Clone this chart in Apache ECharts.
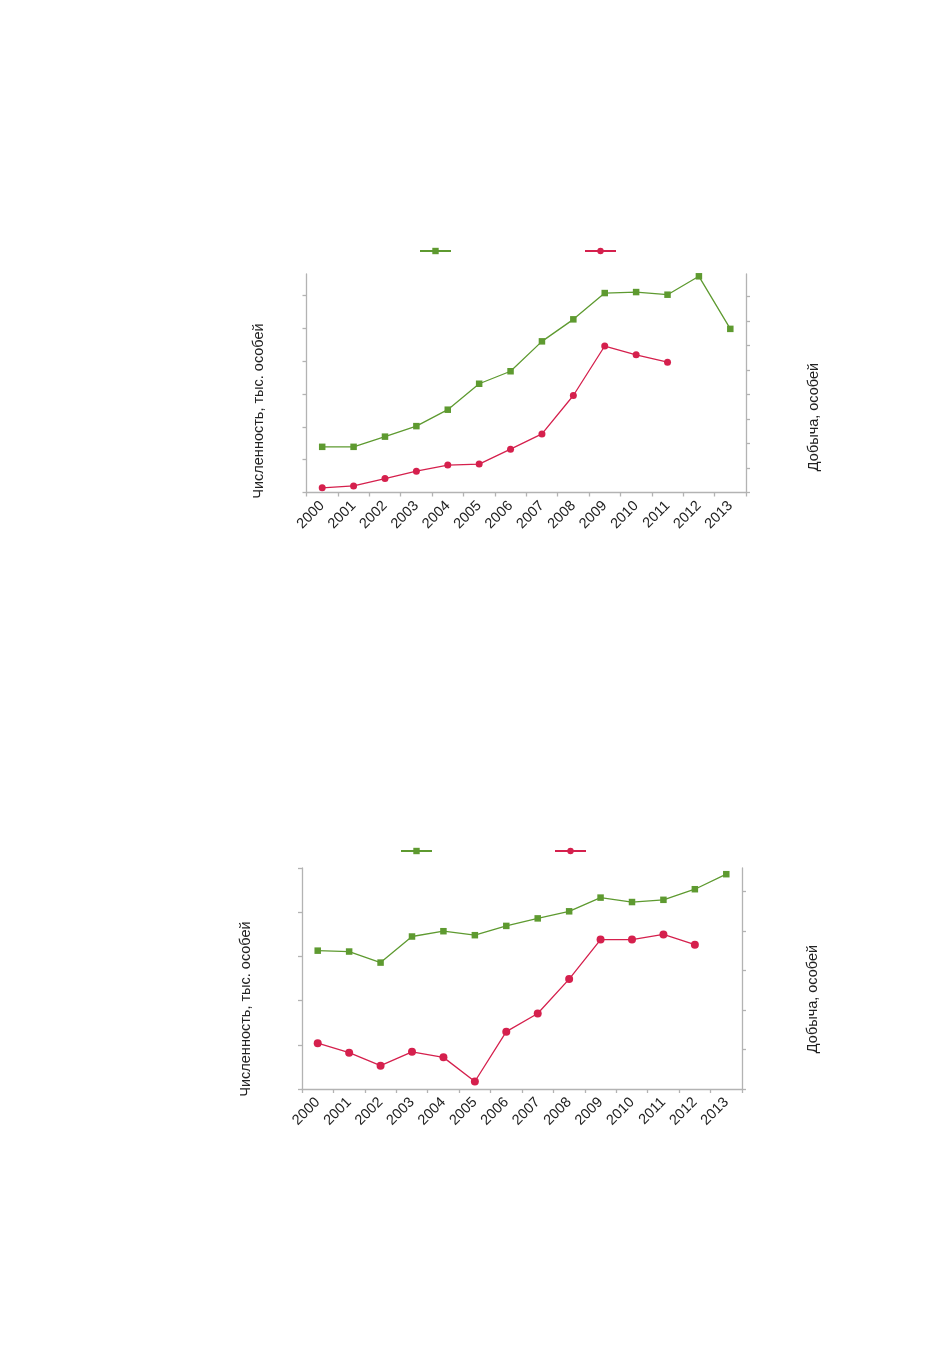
<!DOCTYPE html>
<html>
<head>
<meta charset="utf-8">
<script src="https://cdn.jsdelivr.net/npm/echarts@6/dist/echarts.min.js"></script>
<style>
html,body{margin:0;padding:0;background:#fff;}
#c{width:927px;height:1356px;}
</style>
</head>
<body>
<div id="c"></div>
<script>
// Data (y axes carry no labels, units are arbitrary tick units)
const years = ['2000','2001','2002','2003','2004','2005','2006','2007','2008','2009','2010','2011','2012','2013'];

// Top chart
const topPopulation = [13.9, 13.9, 17.0, 20.2, 25.2, 33.1, 36.9, 46.0, 52.7, 60.7, 61.0, 60.2, 65.8, 49.8];
const topHarvest    = [19, 27, 57, 87, 112, 116, 177, 239, 396, 598, 562, 532, null, null];

// Bottom chart
const bottomPopulation = [31.3, 31.1, 28.6, 34.5, 35.7, 34.8, 36.9, 38.6, 40.2, 43.3, 42.3, 42.8, 45.2, 48.6];
const bottomHarvest    = [116, 92, 59, 94, 80, 19, 145, 191, 278, 378, 378, 391, 365, null];

const topLeftTicks = [0, 10, 20, 30, 40, 50, 60];
const topRightTicks = [0, 100, 200, 300, 400, 500, 600, 700, 800];
const bottomLeftTicks = [0, 10, 20, 30, 40, 50];
const bottomRightTicks = [0, 100, 200, 300, 400, 500];

const leftName = 'Численность, тыс. особей';
const rightName = 'Добыча, особей';

const GREEN = '#5e9a30';
const RED = '#d5204d';
const AXIS = '#b3b3b3';
const FONT = '"Liberation Sans", Arial, sans-serif';

function xAx(gi){
  return {
    type:'category', gridIndex:gi, data:years, boundaryGap:true,
    axisLine:{show:true, lineStyle:{color:AXIS, width:1.3}},
    axisTick:{show:true, inside:false, length:4, lineStyle:{color:AXIS, width:1.3}},
    axisLabel:{rotate:45, fontSize:14.5, color:'#222', fontFamily:FONT, margin:11, interval:0},
    splitLine:{show:false}
  };
}
function yAx(gi, pos, max, ticks){
  return {
    type:'value', gridIndex:gi, position:pos, min:0, max:max,
    axisLine:{show:true, lineStyle:{color:AXIS, width:1.3}},
    axisTick:{show:true, inside:false, length:4, customValues:ticks, lineStyle:{color:AXIS, width:1.3}},
    axisLabel:{show:false},
    splitLine:{show:false}
  };
}
function ser(name, data, xi, yi, color, symbol, size){
  return {
    name:name, type:'line', data:data, xAxisIndex:xi, yAxisIndex:yi,
    symbol:symbol, symbolSize:size, showSymbol:true, connectNulls:false,
    lineStyle:{color:color, width:1.3},
    itemStyle:{color:color},
    emphasis:{disabled:true},
    animation:false
  };
}
function nameText(x, y, text){
  return {
    type:'text', x:x, y:y, rotation:Math.PI/2,
    style:{text:text, fill:'#222', font:'14.5px ' + FONT, align:'center', verticalAlign:'middle'}
  };
}

const chart = echarts.init(document.getElementById('c'), null, {renderer:'canvas'});
chart.setOption({
  backgroundColor:'#fff',
  animation:false,
  grid:[
    {left:306.5, top:274, width:439.5, height:218.5},
    {left:302, top:868, width:440, height:221}
  ],
  xAxis:[xAx(0), xAx(1)],
  yAxis:[
    yAx(0,'left',66.5,topLeftTicks),
    yAx(0,'right',892,topRightTicks),
    yAx(1,'left',50,bottomLeftTicks),
    yAx(1,'right',559,bottomRightTicks)
  ],
  legend:[
    {data:['Численность (1)','Добыча (1)'], left:419, top:247, padding:0, itemWidth:31, itemHeight:8, itemGap:132,
     formatter:function(){return '';}, selectedMode:false},
    {data:['Численность (2)','Добыча (2)'], left:400, top:847, padding:0, itemWidth:31, itemHeight:8, itemGap:121,
     formatter:function(){return '';}, selectedMode:false}
  ],
  series:[
    ser('Численность (1)', topPopulation, 0, 0, GREEN, 'rect', 6.5),
    ser('Добыча (1)', topHarvest, 0, 1, RED, 'circle', 7),
    ser('Численность (2)', bottomPopulation, 1, 2, GREEN, 'rect', 6.5),
    ser('Добыча (2)', bottomHarvest, 1, 3, RED, 'circle', 8)
  ],
  graphic:[
    nameText(258.5, 411, leftName),
    nameText(813.5, 417, rightName),
    nameText(245.5, 1009, leftName),
    nameText(812.5, 999, rightName)
  ]
});
</script>
</body>
</html>
